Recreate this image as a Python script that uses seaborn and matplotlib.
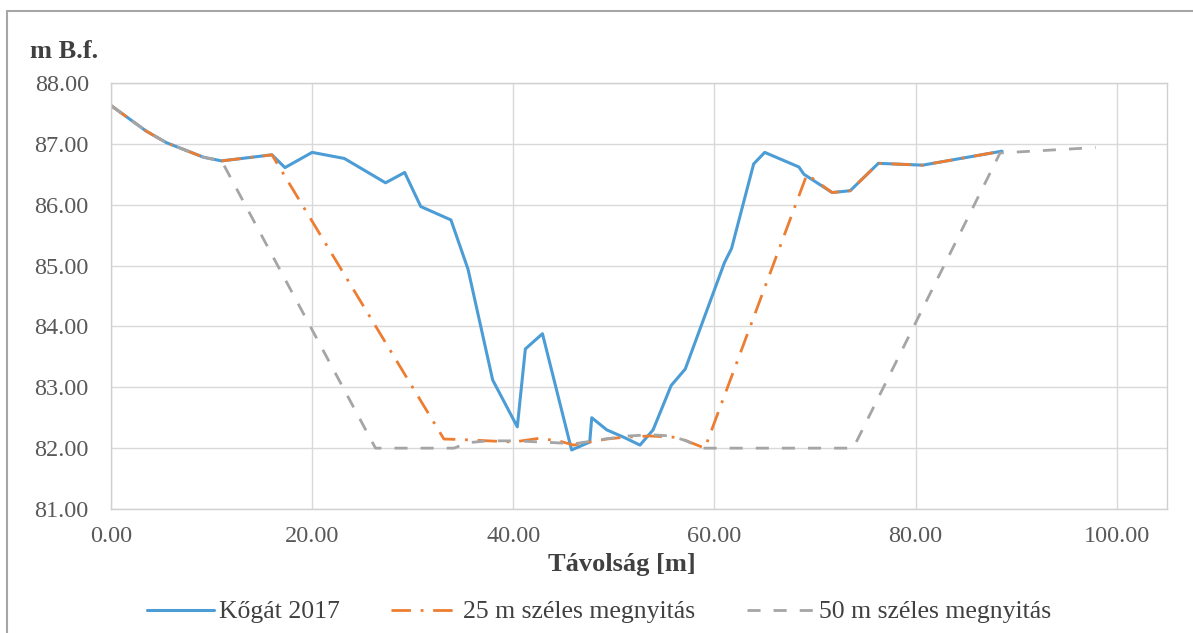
import pandas as pd
import matplotlib.pyplot as plt
import seaborn as sns
from matplotlib.lines import Line2D
from matplotlib.ticker import FormatStrFormatter

# ================= 数据 =================
# Kőgát 2017 (felmért keresztszelvény)
kogat_x = [0.0, 3.5, 5.5, 9.2, 11.0, 16.0, 17.3, 20.0, 23.2, 27.3, 29.2, 30.8,
           33.8, 35.5, 37.95, 40.4, 41.2, 42.9, 45.8, 47.6, 47.8, 49.3, 51.1,
           52.6, 53.9, 55.7, 57.1, 61.0, 61.7, 63.9, 65.0, 68.4, 68.9, 71.7,
           73.5, 76.3, 80.7, 88.6]
kogat_y = [87.63, 87.21, 87.02, 86.78, 86.72, 86.82, 86.61, 86.86, 86.76, 86.36,
           86.53, 85.97, 85.75, 84.94, 83.12, 82.35, 83.63, 83.88, 81.97, 82.10,
           82.50, 82.30, 82.17, 82.05, 82.30, 83.03, 83.30, 85.05, 85.28, 86.67,
           86.86, 86.62, 86.50, 86.20, 86.23, 86.68, 86.65, 86.88]

# 25 m széles megnyitás
m25_x = [0.0, 3.5, 5.5, 9.2, 11.0, 16.0, 33.1, 35.0, 37.5, 40.0, 42.5, 44.5,
         46.0, 47.6, 49.3, 51.1, 53.5, 55.9, 56.6, 59.05, 69.2, 71.7, 73.5,
         76.3, 80.7, 88.6]
m25_y = [87.63, 87.21, 87.02, 86.78, 86.72, 86.82, 82.15, 82.14, 82.12, 82.10,
         82.16, 82.12, 82.05, 82.10, 82.15, 82.18, 82.20, 82.18, 82.16, 82.00,
         86.50, 86.20, 86.23, 86.68, 86.65, 86.88]

# 50 m széles megnyitás
m50_x = [0.0, 3.5, 5.5, 9.2, 11.0, 26.3, 34.1, 35.5, 37.5, 40.1, 44.1, 46.0,
         49.1, 51.4, 53.7, 55.7, 57.2, 58.7, 73.8, 88.4, 97.9]
m50_y = [87.63, 87.21, 87.02, 86.78, 86.72, 82.00, 82.00, 82.09, 82.12, 82.12,
         82.09, 82.07, 82.15, 82.20, 82.22, 82.20, 82.12, 82.00, 82.00, 86.85,
         86.94]

labels = ['Kőgát 2017', '25 m széles megnyitás', '50 m széles megnyitás']
x_ticks = [0, 20, 40, 60, 80, 100]
y_ticks = [81, 82, 83, 84, 85, 86, 87, 88]

# ================= 样式 =================
sns.set_theme(style="white")
plt.rcParams['font.family'] = ['Liberation Serif', 'DejaVu Serif']

W, H = 1193, 633
fig = plt.figure(figsize=(W / 100, H / 100), dpi=100)
ax = fig.add_axes([111 / W, 1 - 509 / H, (1167 - 111) / W, (509 - 83) / H])

series = [
    (kogat_x, kogat_y, '#4C9CD6', '-', 2.2),
    (m25_x, m25_y, '#ED7D31', (0, (7, 3.5, 1, 3.5)), 2.0),
    (m50_x, m50_y, '#A5A5A5', (0, (4.7, 4.7)), 2.0),
]
for (xs, ys, col, ls, lw), lab in zip(series, labels):
    df = pd.DataFrame({'x': xs, 'y': ys})
    sns.lineplot(data=df, x='x', y='y', sort=False, estimator=None, ax=ax,
                 color=col, linestyle=ls, linewidth=lw, label=lab)

ax.set_xlim(0, 105)
ax.set_ylim(81, 88)
ax.set_xticks(x_ticks)
ax.set_yticks(y_ticks)
ax.xaxis.set_major_formatter(FormatStrFormatter('%.2f'))
ax.yaxis.set_major_formatter(FormatStrFormatter('%.2f'))
ax.grid(True, color='#D9D9D9', linewidth=1.0)
ax.set_axisbelow(True)
for sp in ax.spines.values():
    sp.set_color('#D0D0D0')
    sp.set_linewidth(1.0)
ax.tick_params(axis='both', length=0, labelsize=17.5, labelcolor='#595959')
ax.tick_params(axis='y', pad=16)
ax.tick_params(axis='x', pad=12)
ax.set_xlabel('')
ax.set_ylabel('')

# 轴标题
fig.text(30 / W, 1 - 51 / H, 'm B.f.', fontsize=19, fontweight='bold',
         color='#404040', ha='left', va='center')
fig.text(622 / W, 1 - 565 / H, 'Távolság [m]', fontsize=19, fontweight='bold',
         color='#404040', ha='center', va='center')

# 图例
ax.get_legend().remove()
handles = [Line2D([], [], color=c, linestyle=ls, linewidth=lw)
           for (_, _, c, ls, lw) in series]
fig.legend(handles, labels, loc='center', bbox_to_anchor=(599 / W, 1 - 612 / H),
           ncol=3, frameon=False, fontsize=18.5, handlelength=2.6,
           handletextpad=0.2, columnspacing=2.0, labelcolor='#404040')

# 图表区边框 (左、上)
fig.add_artist(Line2D([7 / W, 7 / W], [0, 1 - 11 / H], transform=fig.transFigure,
                      color='#A6A6A6', linewidth=1.5))
fig.add_artist(Line2D([7 / W, 1], [1 - 11 / H, 1 - 11 / H], transform=fig.transFigure,
                      color='#A6A6A6', linewidth=1.5))

fig.savefig('out.png', dpi=100)
